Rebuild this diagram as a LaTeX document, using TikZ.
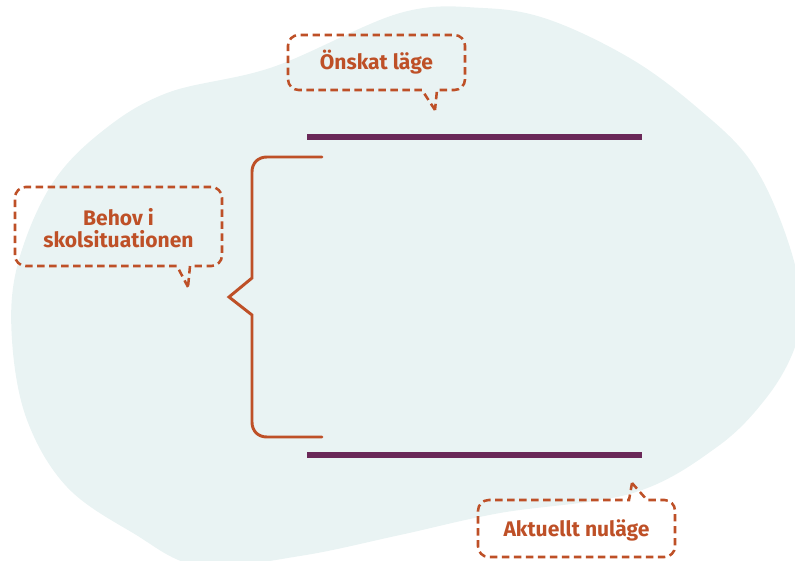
\documentclass[tikz,border=0pt]{standalone}
\usepackage{fontspec}
\setmainfont{Fira Sans}
\definecolor{blobc}{HTML}{E9F3F3}
\definecolor{rust}{HTML}{BE5027}
\definecolor{plum}{HTML}{6A2858}
\begin{document}
\begin{tikzpicture}[x=0.75pt,y=-0.75pt,
  lbl/.style={text=rust,font=\fontsize{15.8pt}{16pt}\selectfont\bfseries,align=center,inner sep=0pt},
  callout/.style={draw=rust,line width=1.9pt,dash pattern=on 5.6pt off 3.4pt,line cap=butt},
  level/.style={draw=plum,line width=4.5pt},
  bracket/.style={draw=rust,line width=2.2pt,line cap=round}]
\useasboundingbox (0,0) rectangle (795,560);
\clip (0,0) rectangle (795,560);
% background blob
\fill[blobc] plot[smooth cycle,tension=0.6] coordinates {
 (400,13) (483,8) (550,20) (633,60) (700,110) (750,160) (783,227) (802,300)
 (795,347) (767,397) (717,447) (633,493) (500,513) (400,535) (300,556)
 (200,566) (133,533) (67,487) (27,420) (12,340) (17,267) (50,187)
 (100,133) (167,93) (273,67)};
% levels
\coordinate (t1) at (307,137); \coordinate (t2) at (642,137);
\coordinate (b1) at (307,455); \coordinate (b2) at (642,455);
\draw[level] (t1) -- (t2);
\draw[level] (b1) -- (b2);
% bracket
\coordinate (bt) at (322,157); \coordinate (bb) at (322,437); \coordinate (bp) at (229,297);
\draw[bracket] (bt) -- (267,157) .. controls (258,157) and (252,163) .. (252,172)
  -- (252,278) -- (bp) -- (252,315) -- (252,422)
  .. controls (252,431) and (258,437) .. (267,437) -- (bb);
% labels
\node[lbl] (onskat) at (376.5,62) {Önskat läge};
\node[lbl] (behov) at (118.5,228) {Behov i\\skolsituationen};
\node[lbl] (aktuellt) at (576.5,530) {Aktuellt nuläge};
% callouts
\draw[callout] (435,110) -- (422,90) [rounded corners=8pt] -- (288,90) -- (288,35) -- (465,35) -- (465,90) [sharp corners] -- (437,90) -- (435,110);
\draw[callout] (188,287) -- (177,266) [rounded corners=8pt] -- (15,266) -- (15,187) -- (222,187) -- (222,266) [sharp corners] -- (190,266) -- (188,287);
\draw[callout] (632,483) -- (647,500) [rounded corners=8pt] -- (675,500) -- (675,557) -- (478,557) -- (478,500) [sharp corners] -- (629,500) -- (632,483);
\end{tikzpicture}
\end{document}
